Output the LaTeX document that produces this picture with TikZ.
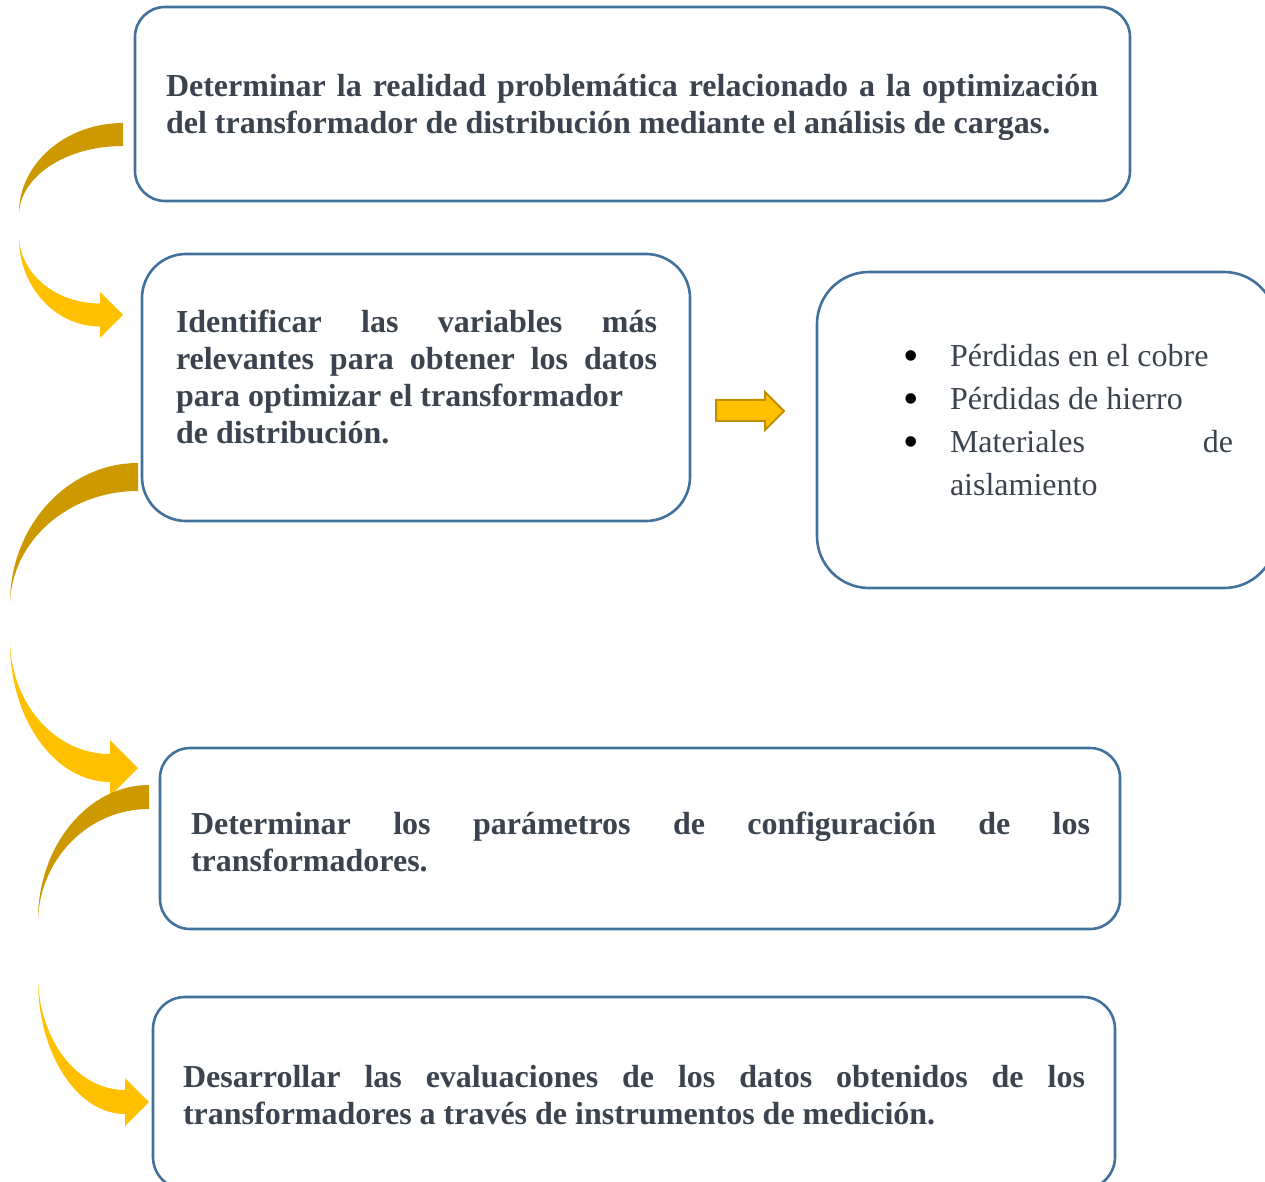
\documentclass[tikz,border=0pt]{standalone}
\usepackage{fontspec}
\setmainfont{Liberation Serif}
\hyphenpenalty=10000
\tolerance=9999

\definecolor{boxblue}{RGB}{65,113,156}
\definecolor{textgray}{RGB}{59,68,78}
\definecolor{golddark}{RGB}{204,153,0}
\definecolor{goldlight}{RGB}{255,192,0}
\definecolor{goldedge}{RGB}{191,144,0}

\tikzset{
    stagebox/.style={draw=boxblue, line width=1.3pt, rounded corners=#1, inner sep=0pt},
    stagetext/.style={text=textgray, align=justify, font=\fontsize{16}{18.5}\selectfont\bfseries},
    listtext/.style={text=textgray, align=justify, font=\fontsize{16}{21.5}\selectfont},
    arcdark/.style={fill=golddark},
    arclight/.style={fill=goldlight}
}

% curved arrow: left x, right x, top/bottom of upper band, point y, start y, tip y
\newcommand{\bentarrow}[7]{%
    \pgfmathsetmacro{\bw}{#4-#3}
    \pgfmathsetmacro{\hb}{#2-\bw}
    \fill[arcdark] (#2,#3) .. controls ({#1+0.45*(#2-#1)},#3) and (#1,{#5-0.55*(#5-#3)}) .. (#1,#5)
        .. controls ({#1+2},{#5-0.55*(#5-#4)}) and ({#1+0.45*(#2-#1)},#4) .. (#2,#4) -- cycle;
    \fill[arclight] (#1,#6) .. controls (#1,{#6+0.55*(#7+0.5*\bw-#6)}) and ({#1+0.45*(\hb-#1)},{#7+0.5*\bw}) .. (\hb,{#7+0.5*\bw})
        -- (\hb,{#7+\bw}) -- (#2,#7) -- (\hb,{#7-\bw}) -- (\hb,{#7-0.5*\bw})
        .. controls ({#1+0.45*(\hb-#1)},{#7-0.5*\bw}) and ({#1+2},{#6+0.55*(#7-0.5*\bw-#6)}) .. (#1,#6) -- cycle;
}
\newcommand{\blackdot}{\makebox[22pt][l]{\hspace{-1.5pt}\smash{\raisebox{-2.2pt}{\textcolor{black}{\fontsize{22}{20}\selectfont\textbullet}}}}}

\begin{document}
\begin{tikzpicture}[x=0.5pt,y=-0.5pt]
    \useasboundingbox (0,0) rectangle (1265,1182);

    % boxes
    \node[stagebox=15pt, minimum width=497.5pt, minimum height=97pt] (realidad) at (632.5,104) {};
    \node[stagetext, text width=466pt] (trealidad) at (632,107) {Determinar la realidad problemática relacionado a la optimización\linebreak del transformador de distribución mediante el análisis de cargas.};

    \node[stagebox=22pt, minimum width=274pt, minimum height=133.5pt] (variables) at (416,387.5) {};
    \node[stagetext, text width=240.5pt] (tvariables) at (416.5,377) {Identificar las variables más\linebreak relevantes para obtener los datos\linebreak para optimizar el transformador\\ de distribución.};

    \node[stagebox=26pt, minimum width=229.5pt, minimum height=158pt] (perdidas) at (1046.5,430) {};
    \node[listtext, text width=186.5pt] (tperdidas) at (1046.5,420) {%
        \leftskip=23pt
        \noindent\blackdot Pérdidas en el cobre\par
        \noindent\blackdot Pérdidas de hierro\par
        \hangindent=22pt\hangafter=1
        \noindent\blackdot Materiales de\linebreak aislamiento\par};

    \node[stagebox=15pt, minimum width=480pt, minimum height=90.5pt] (parametros) at (640,838.5) {};
    \node[stagetext, text width=449.5pt] (tparametros) at (640.5,842) {Determinar los parámetros de configuración de los\linebreak transformadores.};

    \node[stagebox=16pt, minimum width=481pt, minimum height=96pt] (evaluacion) at (634,1093) {};
    \node[stagetext, text width=451pt] (tevaluacion) at (634,1095) {Desarrollar las evaluaciones de los datos obtenidos de los\linebreak transformadores a través de instrumentos de medición.};

    % straight arrow
    \filldraw[fill=goldlight, draw=goldedge, line width=1pt] (716,400) -- (765,400) -- (765,392) -- (784,411)
        -- (765,430) -- (765,421) -- (716,421) -- cycle;

    % curved arrows
    \bentarrow{19}{123}{123}{146}{213}{238}{315}
    \bentarrow{10}{138}{463}{491}{603}{643}{768}
    \bentarrow{38}{149}{785}{809}{920}{980}{1102}
\end{tikzpicture}
\end{document}
